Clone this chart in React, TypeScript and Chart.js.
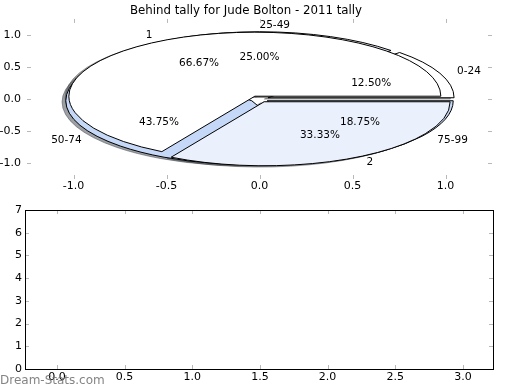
import React, { useEffect, useRef } from 'react';
import { Chart, registerables } from 'chart.js';
Chart.register(...registerables);

const TITLE = 'Behind tally for Jude Bolton - 2011 tally';
const WATERMARK = 'Dream-Stats.com';

const outerLabels = ['0-24', '25-49', '50-74', '75-99'];
const outerValues = [2, 4, 7, 3];
const outerExplode = [0.05, 0.05, 0.05, 0.05];
const outerColors = ['#ffffff', '#eaf0fc', '#c5d8f7', '#c5d8f7'];

const innerLabels = ['1', '2'];
const innerValues = [2, 1];
const innerExplode = [0.05, 0.05];
const innerColors = ['#ffffff', '#eaf0fc'];

const pieXTicks = [-1.0, -0.5, 0.0, 0.5, 1.0];
const pieYTicks = [-1.0, -0.5, 0.0, 0.5, 1.0];
const barXTicks = [0, 0.5, 1.0, 1.5, 2.0, 2.5, 3.0];
const barYTicks = [0, 1, 2, 3, 4, 5, 6, 7];

const FONT = '"DejaVu Sans", sans-serif';

function computeWedges(values: number[], explode: number[]) {
  const total = values.reduce((a, b) => a + b, 0);
  let t = 0;
  return values.map((v, i) => {
    const t1 = t;
    const t2 = t + (360 * v) / total;
    t = t2;
    const mid = (((t1 + t2) / 2) * Math.PI) / 180;
    return {
      t1: (t1 * Math.PI) / 180,
      t2: (t2 * Math.PI) / 180,
      mid,
      cx: explode[i] * Math.cos(mid),
      cy: explode[i] * Math.sin(mid),
      frac: v / total,
    };
  });
}

function hexToRgb(h: string) {
  const n = parseInt(h.slice(1), 16);
  return [(n >> 16) & 255, (n >> 8) & 255, n & 255];
}

const piePlugin = {
  id: 'piePlugin',
  afterDraw(chart: any) {
    const ctx = chart.ctx;
    const xs = chart.scales.x;
    const ys = chart.scales.y;
    const area = chart.chartArea;
    const rx = xs.getPixelForValue(1) - xs.getPixelForValue(0);
    const ry = ys.getPixelForValue(0) - ys.getPixelForValue(1);
    const pies = [
      { w: computeWedges(outerValues, outerExplode), colors: outerColors, labels: outerLabels },
      { w: computeWedges(innerValues, innerExplode), colors: innerColors, labels: innerLabels },
    ];
    const path = (cx: number, cy: number, t1: number, t2: number) => {
      const X = xs.getPixelForValue(cx);
      const Y = ys.getPixelForValue(cy);
      ctx.beginPath();
      ctx.moveTo(X, Y);
      ctx.ellipse(X, Y, rx, ry, 0, -t1, -t2, true);
      ctx.closePath();
    };
    ctx.save();
    ctx.lineWidth = 1;
    ctx.lineJoin = 'miter';
    // shadows
    pies.forEach((p) => {
      p.w.forEach((w, i) => {
        const [r, g, b] = hexToRgb(p.colors[i]).map((c) => Math.round(c * 0.3));
        const col = `rgba(${r},${g},${b},0.5)`;
        path(w.cx - 0.02, w.cy - 0.02, w.t1, w.t2);
        ctx.fillStyle = col;
        ctx.fill();
        ctx.strokeStyle = col;
        ctx.stroke();
      });
    });
    // wedges
    pies.forEach((p) => {
      p.w.forEach((w, i) => {
        path(w.cx, w.cy, w.t1, w.t2);
        ctx.fillStyle = p.colors[i];
        ctx.fill();
        ctx.strokeStyle = '#000';
        ctx.stroke();
      });
    });
    // texts
    ctx.fillStyle = '#000';
    ctx.font = `10.5px ${FONT}`;
    ctx.textBaseline = 'middle';
    pies.forEach((p) => {
      p.w.forEach((w, i) => {
        const lx = w.cx + 1.1 * Math.cos(w.mid);
        const ly = w.cy + 1.1 * Math.sin(w.mid);
        ctx.textAlign = lx > 0 ? 'left' : 'right';
        ctx.fillText(p.labels[i], xs.getPixelForValue(lx), ys.getPixelForValue(ly));
        const px = w.cx + 0.6 * Math.cos(w.mid);
        const py = w.cy + 0.6 * Math.sin(w.mid);
        ctx.textAlign = 'center';
        ctx.fillText((w.frac * 100).toFixed(2) + '%', xs.getPixelForValue(px), ys.getPixelForValue(py));
      });
    });
    // x tick labels for the pie axes
    ctx.font = `11px ${FONT}`;
    ctx.textAlign = 'center';
    pieXTicks.forEach((v) => {
      ctx.fillText(v.toFixed(1), xs.getPixelForValue(v), area.bottom + 7);
    });
    ctx.restore();
  },
};

const inwardTicks = {
  id: 'inwardTicks',
  afterDraw(chart: any, _args: any, opts: any) {
    const ctx = chart.ctx;
    const a = chart.chartArea;
    const xs = chart.scales.x;
    const ys = chart.scales.y;
    ctx.save();
    ctx.lineWidth = 1;
    ctx.strokeStyle = '#b8b8b8';
    const L = 4;
    xs.ticks.forEach((t: any) => {
      const p = Math.round(xs.getPixelForValue(t.value)) + 0.5;
      ctx.beginPath();
      ctx.moveTo(p, a.top);
      ctx.lineTo(p, a.top + L);
      ctx.moveTo(p, a.bottom);
      ctx.lineTo(p, a.bottom - L);
      ctx.stroke();
    });
    ys.ticks.forEach((t: any) => {
      const p = Math.round(ys.getPixelForValue(t.value)) + 0.5;
      ctx.beginPath();
      ctx.moveTo(a.left, p);
      ctx.lineTo(a.left + L, p);
      ctx.moveTo(a.right, p);
      ctx.lineTo(a.right - L, p);
      ctx.stroke();
    });
    if (opts && opts.frame) {
      ctx.strokeStyle = '#000';
      ctx.strokeRect(Math.round(a.left) + 0.5, Math.round(a.top) + 0.5, Math.round(a.right - a.left), Math.round(a.bottom - a.top));
    }
    ctx.restore();
  },
};

function makeScale(
  min: number,
  max: number,
  ticks: number[],
  axis: 'x' | 'y',
  size: number,
  pad: number,
  fmt: (v: number) => string,
  showLabels = true
) {
  return {
    type: 'linear' as const,
    position: axis === 'x' ? 'bottom' : 'left',
    min,
    max,
    afterBuildTicks: (s: any) => {
      s.ticks = ticks.map((v) => ({ value: v }));
    },
    afterFit: (s: any) => {
      if (axis === 'x') s.height = size;
      else s.width = size;
    },
    grid: { display: false, drawTicks: false },
    border: { display: false },
    ticks: {
      display: showLabels,
      padding: pad,
      color: '#000',
      font: { size: 11, family: FONT },
      autoSkip: false,
      maxRotation: 0,
      minRotation: 0,
      callback: (v: any) => fmt(Number(v)),
    },
  };
}

export default function App() {
  const topRef = useRef<HTMLCanvasElement>(null);
  const botRef = useRef<HTMLCanvasElement>(null);

  useEffect(() => {
    Chart.defaults.font.family = FONT;
    const c1 = new Chart(topRef.current as HTMLCanvasElement, {
      type: 'scatter',
      data: { datasets: [] },
      options: {
        responsive: false,
        animation: false,
        events: [],
        layout: { padding: { left: 0, right: 28, top: 0, bottom: 0 } },
        scales: {
          x: makeScale(-1.25, 1.25, pieXTicks, 'x', 21, 1, (v) => v.toFixed(1), false) as any,
          y: makeScale(-1.25, 1.25, pieYTicks, 'y', 27, 6, (v) => v.toFixed(1)) as any,
        },
        plugins: {
          legend: { display: false },
          tooltip: { enabled: false },
          title: {
            display: true,
            text: TITLE,
            color: '#000',
            font: { size: 11.8, family: FONT, weight: 'normal' },
            padding: { top: 3.8, bottom: 1.0 },
          },
          inwardTicks: { frame: false },
        } as any,
      },
      plugins: [piePlugin, inwardTicks],
    });
    const c2 = new Chart(botRef.current as HTMLCanvasElement, {
      type: 'scatter',
      data: { datasets: [] },
      options: {
        responsive: false,
        animation: false,
        events: [],
        layout: { padding: { left: 0, right: 27, top: 10, bottom: 0 } },
        scales: {
          x: makeScale(-0.236, 3.222, barXTicks, 'x', 21, 2, (v) => v.toFixed(1)) as any,
          y: makeScale(0, 7, barYTicks, 'y', 25, 3, (v) => String(v)) as any,
        },
        plugins: {
          legend: { display: false },
          tooltip: { enabled: false },
          inwardTicks: { frame: true },
        } as any,
      },
      plugins: [inwardTicks],
    });
    return () => {
      c1.destroy();
      c2.destroy();
    };
  }, []);

  return (
    <div style={{ position: 'fixed', left: 0, top: 0, width: 520, height: 390, background: '#fff' }}>
      <canvas ref={topRef} width={520} height={200} style={{ position: 'absolute', left: 0, top: 0, width: 520, height: 200 }} />
      <canvas ref={botRef} width={520} height={190} style={{ position: 'absolute', left: 0, top: 200, width: 520, height: 190 }} />
      <div
        style={{
          position: 'absolute',
          left: 0,
          top: 372,
          fontFamily: FONT,
          fontSize: 12,
          lineHeight: '16px',
          color: 'rgba(110,110,110,0.85)',
          whiteSpace: 'nowrap',
        }}
      >
        {WATERMARK}
      </div>
    </div>
  );
}
